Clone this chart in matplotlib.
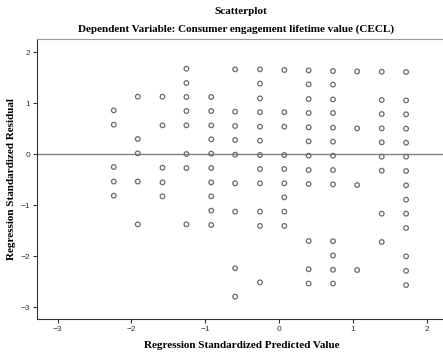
import matplotlib
matplotlib.use("Agg")
import matplotlib.pyplot as plt

# Predicted value columns (standardized)
col_x = [-2.24, -1.915, -1.58, -1.256, -0.92, -0.596, -0.26, 0.07, 0.40, 0.73, 1.057, 1.39, 1.72]

# Standardized residuals per column
col_y = [
    [0.856, 0.575, -0.255, -0.54, -0.817],
    [1.124, 0.294, 0.013, -0.54, -1.38],
    [1.124, 0.562, -0.268, -0.556, -0.83],
    [1.673, 1.392, 1.118, 0.843, 0.562, 0.0, -0.275, -1.379],
    [1.118, 0.843, 0.562, 0.288, 0.007, -0.275, -0.556, -0.83, -1.111, -1.392],
    [1.66, 0.83, 0.549, 0.275, -0.013, -0.575, -1.13, -2.24, -2.797],
    [1.66, 1.38, 1.09, 0.82, 0.536, 0.26, -0.02, -0.294, -0.575, -1.13, -1.41, -2.516],
    [1.647, 0.82, 0.536, -0.02, -0.294, -0.575, -0.85, -1.13, -1.41],
    [1.64, 1.366, 1.078, 0.804, 0.523, 0.248, -0.033, -0.314, -0.588, -1.706, -2.26, -2.54],
    [1.627, 1.36, 1.07, 0.804, 0.516, 0.242, -0.033, -0.314, -0.595, -1.71, -1.99, -2.27, -2.54],
    [1.62, 0.503, -0.608, -2.275],
    [1.614, 1.059, 0.784, 0.503, 0.229, -0.052, -0.327, -1.17, -1.725],
    [1.608, 1.052, 0.778, 0.497, 0.222, -0.052, -0.333, -0.614, -0.895, -1.17, -1.45, -2.007, -2.29, -2.57],
]

x_ticks = [-3, -2, -1, 0, 1, 2]
y_ticks = [-3, -2, -1, 0, 1, 2]

title = "Scatterplot"
subtitle = "Dependent Variable: Consumer engagement lifetime value (CECL)"
xlabel = "Regression Standardized Predicted Value"
ylabel = "Regression Standardized Residual"

xs, ys = [], []
for cx, cy in zip(col_x, col_y):
    for v in cy:
        xs.append(cx)
        ys.append(v)

fig = plt.figure(figsize=(4.43, 3.56), dpi=100)
ax = fig.add_axes([37/443, 1 - 319/356, (443-37)/443, (319-39)/356])

ax.axhline(0, color="#808080", lw=1.0, zorder=1)
ax.scatter(xs, ys, s=11, facecolors="none", edgecolors="#6a6a6a", linewidths=0.9, zorder=2)

ax.set_xlim(-3.28, 2.22)
ax.set_ylim(-3.235, 2.255)
ax.set_xticks(x_ticks)
ax.set_yticks(y_ticks)
ax.tick_params(direction="out", length=3, width=0.8, labelsize=6, pad=2, colors="#333333")
for lab in ax.get_xticklabels() + ax.get_yticklabels():
    lab.set_fontfamily("Liberation Sans")
for sp in ax.spines.values():
    sp.set_linewidth(0.8)
    sp.set_color("#333333")
ax.spines["top"].set_color("#999999")
ax.spines["right"].set_visible(False)

serif = dict(fontfamily="Liberation Serif", fontweight="bold")
fig.text(241/443, 1 - 12/356, title, ha="center", va="center", fontsize=8, **serif)
fig.text(236/443, 1 - 29/356, subtitle, ha="center", va="center", fontsize=8, **serif)
fig.text(242/443, 1 - 346/356, xlabel, ha="center", va="center", fontsize=8, **serif)
fig.text(12/443, 1 - 179/356, ylabel, ha="center", va="center", rotation=90, fontsize=8, **serif)

fig.savefig("out.png", dpi=100)
